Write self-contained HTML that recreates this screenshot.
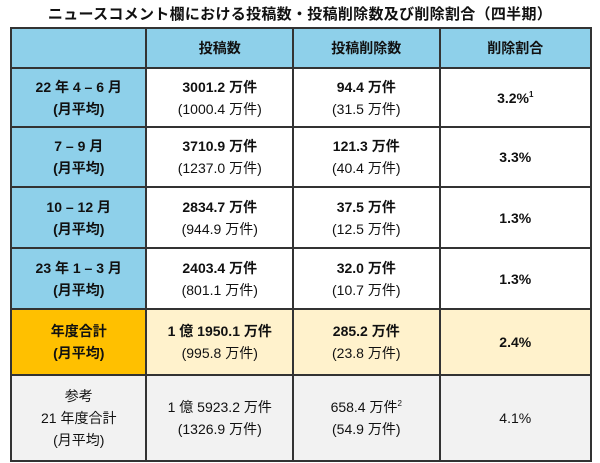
<!DOCTYPE html>
<html><head><meta charset="utf-8"><style>
body{margin:0;background:#fff;width:600px;height:463px;overflow:hidden;font-family:"Liberation Sans","Noto Sans CJK JP",sans-serif;color:#111}
.title{position:absolute;left:0;top:3px;width:600px;text-align:center;font-size:15px;font-weight:bold;letter-spacing:0.3px}
table{position:absolute;left:10px;top:27px;border-collapse:collapse;width:582px}
td{border:2px solid #333;text-align:center;font-size:14px;line-height:22px;padding:0}
.b{font-weight:bold}
.blue{background:#8ed0ea}
.orange{background:#ffc000}
.yel{background:#fff2cc}
.gray{background:#f2f2f2}
sup{font-size:8px;vertical-align:6px;line-height:0}
</style></head><body>
<div class="title">ニュースコメント欄における投稿数・投稿削除数及び削除割合（四半期）</div>
<table>
<colgroup><col style="width:136px"><col style="width:147px"><col style="width:147px"><col style="width:152px"></colgroup>
<tr style="height:40px"><td class="blue"></td><td class="blue b">投稿数</td><td class="blue b">投稿削除数</td><td class="blue b">削除割合</td></tr>
<tr style="height:59px"><td class="blue b">22 年 4 – 6 月<br>(月平均)</td><td><span class="b">3001.2 万件</span><br>(1000.4 万件)</td><td><span class="b">94.4 万件</span><br>(31.5 万件)</td><td class="b">3.2%<sup>1</sup></td></tr>
<tr style="height:60px"><td class="blue b">7 – 9 月<br>(月平均)</td><td><span class="b">3710.9 万件</span><br>(1237.0 万件)</td><td><span class="b">121.3 万件</span><br>(40.4 万件)</td><td class="b">3.3%</td></tr>
<tr style="height:61px"><td class="blue b">10 – 12 月<br>(月平均)</td><td><span class="b">2834.7 万件</span><br>(944.9 万件)</td><td><span class="b">37.5 万件</span><br>(12.5 万件)</td><td class="b">1.3%</td></tr>
<tr style="height:61px"><td class="blue b">23 年 1 – 3 月<br>(月平均)</td><td><span class="b">2403.4 万件</span><br>(801.1 万件)</td><td><span class="b">32.0 万件</span><br>(10.7 万件)</td><td class="b">1.3%</td></tr>
<tr style="height:66px"><td class="orange b">年度合計<br>(月平均)</td><td class="yel"><span class="b">1 億 1950.1 万件</span><br>(995.8 万件)</td><td class="yel"><span class="b">285.2 万件</span><br>(23.8 万件)</td><td class="yel b">2.4%</td></tr>
<tr style="height:86px"><td class="gray">参考<br>21 年度合計<br>(月平均)</td><td class="gray">1 億 5923.2 万件<br>(1326.9 万件)</td><td class="gray">658.4 万件<sup>2</sup><br>(54.9 万件)</td><td class="gray">4.1%</td></tr>
</table>
</body></html>
